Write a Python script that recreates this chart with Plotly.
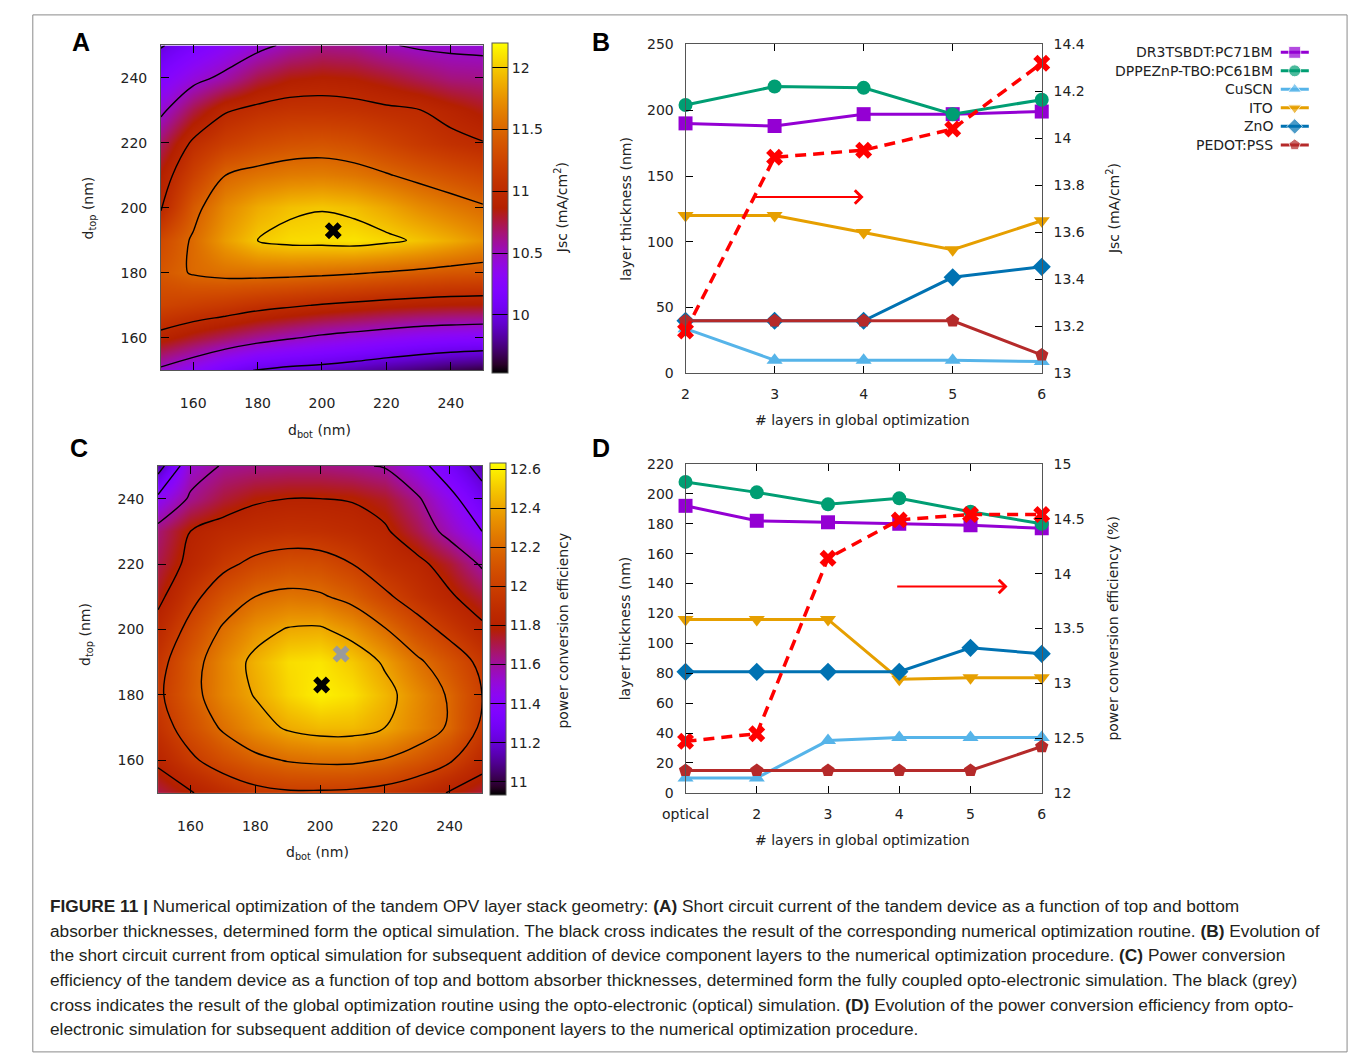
import math
import plotly.graph_objects as go

W, H = 1355, 1053
def fx(px): return px / W
def fy(py): return 1 - py / H

# ---------------- data ----------------
dbot = [150, 160, 170, 180, 190, 200, 210, 220, 230, 240, 250]
dtop = [150, 160, 170, 180, 190, 200, 210, 220, 230, 240, 250]

# Jsc (mA/cm2), rows = d_top, cols = d_bot
jsc_grid = [
    [10.45, 10.30, 10.12, 9.98, 9.93, 9.90, 9.85, 9.78, 9.72, 9.66, 9.62],
    [10.92, 10.80, 10.70, 10.60, 10.52, 10.45, 10.40, 10.35, 10.30, 10.27, 10.25],
    [11.25, 11.20, 11.15, 11.08, 11.03, 10.98, 10.94, 10.90, 10.87, 10.85, 10.84],
    [11.40, 11.52, 11.57, 11.58, 11.57, 11.55, 11.52, 11.48, 11.44, 11.40, 11.38],
    [11.30, 11.53, 11.80, 12.00, 12.07, 12.08, 12.10, 12.05, 11.97, 11.87, 11.75],
    [10.97, 11.42, 11.70, 11.87, 11.96, 11.99, 11.95, 11.85, 11.72, 11.62, 11.53],
    [10.88, 11.22, 11.50, 11.58, 11.63, 11.64, 11.60, 11.52, 11.43, 11.35, 11.27],
    [10.70, 11.04, 11.20, 11.30, 11.36, 11.38, 11.34, 11.25, 11.15, 11.07, 11.01],
    [10.45, 10.75, 10.98, 11.06, 11.10, 11.10, 11.08, 11.04, 11.01, 10.92, 10.83],
    [10.22, 10.42, 10.56, 10.75, 10.85, 10.88, 10.86, 10.80, 10.72, 10.65, 10.63],
    [9.98, 10.15, 10.30, 10.43, 10.55, 10.62, 10.60, 10.52, 10.47, 10.45, 10.44],
]

# power conversion efficiency (%), rows = d_top, cols = d_bot
pce_grid = [
    [11.70, 11.79, 11.88, 11.95, 11.98, 11.98, 11.97, 11.94, 11.88, 11.79, 11.72],
    [11.83, 11.97, 12.08, 12.16, 12.21, 12.23, 12.23, 12.19, 12.12, 12.02, 11.86],
    [11.92, 12.08, 12.22, 12.33, 12.42, 12.46, 12.46, 12.40, 12.30, 12.18, 11.97],
    [11.97, 12.14, 12.30, 12.41, 12.53, 12.60, 12.56, 12.45, 12.32, 12.18, 12.00],
    [11.94, 12.13, 12.30, 12.44, 12.55, 12.57, 12.50, 12.38, 12.23, 12.10, 11.96],
    [11.86, 12.05, 12.22, 12.34, 12.41, 12.42, 12.34, 12.21, 12.07, 11.95, 11.83],
    [11.76, 11.95, 12.10, 12.20, 12.24, 12.22, 12.15, 12.03, 11.92, 11.82, 11.72],
    [11.70, 11.84, 11.96, 12.04, 12.08, 12.07, 12.00, 11.90, 11.84, 11.73, 11.58],
    [11.65, 11.80, 11.86, 11.89, 11.91, 11.90, 11.87, 11.82, 11.70, 11.55, 11.40],
    [11.44, 11.62, 11.72, 11.78, 11.80, 11.80, 11.79, 11.74, 11.62, 11.45, 11.27],
    [11.12, 11.53, 11.61, 11.63, 11.64, 11.64, 11.62, 11.59, 11.46, 11.30, 11.14],
]

jsc_opt_bot, jsc_opt_top = [203.5], [193.0]
pce_opt_bot, pce_opt_top = [200.5], [183.0]        # opto-electronic (black)
pce_optical_bot, pce_optical_top = [206.5], [192.5]  # optical (grey)

jsc_levels = (10.0, 12.0, 0.5)
pce_levels = (11.2, 12.6, 0.2)

series_names = ["DR3TSBDT:PC71BM", "DPPEZnP-TBO:PC61BM", "CuSCN", "ITO", "ZnO", "PEDOT:PSS"]
series_colors = ["#9400D3", "#009E73", "#56B4E9", "#E69F00", "#0072B2", "#B52A2A"]
series_symbols = ["square", "circle", "triangle-up", "triangle-down", "diamond", "pentagon"]

layers_B = [2, 3, 4, 5, 6]
thick_B = [
    [190, 188, 197, 197, 199],   # DR3TSBDT:PC71BM
    [204, 218, 217, 197, 208],   # DPPEZnP-TBO:PC61BM
    [34, 10, 10, 10, 9],         # CuSCN
    [120, 120, 107, 94, 116],    # ITO
    [40, 40, 40, 73, 81],        # ZnO
    [40, 40, 40, 40, 14],        # PEDOT:PSS
]
jsc_B = [13.18, 13.92, 13.95, 14.04, 14.32]

layers_D = ["optical", "2", "3", "4", "5", "6"]
thick_D = [
    [192, 182, 181, 180, 179, 177],
    [208, 201, 193, 197, 188, 180],
    [10, 10, 35, 37, 37, 37],
    [116, 116, 116, 76, 77, 77],
    [81, 81, 81, 81, 97, 93],
    [15, 15, 15, 15, 15, 31],
]
pce_D = [12.47, 12.54, 14.14, 14.49, 14.54, 14.54]

arrow_B = dict(x0=2.77, x1=4.0, y=134)
arrow_D = dict(x0=2.95, x1=4.52, y=138)

caption_lines = [
    "<b>FIGURE 11 |</b> Numerical optimization of the tandem OPV layer stack geometry: <b>(A)</b> Short circuit current of the tandem device as a function of top and bottom",
    "absorber thicknesses, determined form the optical simulation. The black cross indicates the result of the corresponding numerical optimization routine. <b>(B)</b> Evolution of",
    "the short circuit current from optical simulation for subsequent addition of device component layers to the numerical optimization procedure. <b>(C)</b> Power conversion",
    "efficiency of the tandem device as a function of top and bottom absorber thicknesses, determined form the fully coupled opto-electronic simulation. The black (grey)",
    "cross indicates the result of the global optimization routine using the opto-electronic (optical) simulation. <b>(D)</b> Evolution of the power conversion efficiency from opto-",
    "electronic simulation for subsequent addition of device component layers to the numerical optimization procedure.",
]

# ---------------- style ----------------
FONT = "DejaVu Sans"
TXT = "#222222"
BOX = "#555555"

def gp_color(t):
    r = math.sqrt(t)
    g = t ** 3
    b = max(0.0, math.sin(2 * math.pi * t))
    return "rgb(%d,%d,%d)" % (round(255 * r), round(255 * g), round(255 * b))

gp_scale = [[i / 40, gp_color(i / 40)] for i in range(41)]

fig = go.Figure()

NB = "\u00a0"

def colorbar(xpx, ytop, ybot, tickvals):
    return dict(
        x=fx(xpx), xanchor="left", y=fy((ytop + ybot) / 2), yanchor="middle",
        len=ybot - ytop, lenmode="pixels", thickness=16, thicknessmode="pixels",
        outlinewidth=1, outlinecolor=BOX, ticks="inside", ticklen=16, tickcolor="black",
        tickwidth=1, tickvals=tickvals, tickprefix=NB * 3,
        tickfont=dict(family=FONT, size=14, color=TXT), xpad=0, ypad=0,
    )

# ---- Panel A ----
fig.add_trace(go.Heatmap(
    x=dbot, y=dtop, z=jsc_grid, zsmooth="best", colorscale=gp_scale, zmin=9.53, zmax=12.2,
    colorbar=colorbar(478, 38, 368, [10, 10.5, 11, 11.5, 12]), xaxis="x", yaxis="y",
    hoverinfo="skip"))
fig.add_trace(go.Contour(
    x=dbot, y=dtop, z=jsc_grid, showscale=False, hoverinfo="skip",
    contours=dict(start=jsc_levels[0], end=jsc_levels[1], size=jsc_levels[2], coloring="none"),
    line=dict(color="black", width=1.4, smoothing=1.0), xaxis="x", yaxis="y"))
fig.add_trace(go.Scatter(
    x=jsc_opt_bot, y=jsc_opt_top, mode="markers",
    marker=dict(symbol="x", size=15, color="black", line=dict(width=0)),
    xaxis="x", yaxis="y", showlegend=False))

# ---- Panel C ----
fig.add_trace(go.Heatmap(
    x=dbot, y=dtop, z=pce_grid, zsmooth="best", colorscale=gp_scale, zmin=10.93, zmax=12.63,
    colorbar=colorbar(476, 465, 797, [11, 11.2, 11.4, 11.6, 11.8, 12, 12.2, 12.4, 12.6]),
    xaxis="x3", yaxis="y4", hoverinfo="skip"))
fig.add_trace(go.Contour(
    x=dbot, y=dtop, z=pce_grid, showscale=False, hoverinfo="skip",
    contours=dict(start=pce_levels[0], end=pce_levels[1], size=pce_levels[2], coloring="none"),
    line=dict(color="black", width=1.4, smoothing=1.0), xaxis="x3", yaxis="y4"))
fig.add_trace(go.Scatter(
    x=pce_optical_bot, y=pce_optical_top, mode="markers",
    marker=dict(symbol="x", size=15, color="#9a9a9a", line=dict(width=0)),
    xaxis="x3", yaxis="y4", showlegend=False))
fig.add_trace(go.Scatter(
    x=pce_opt_bot, y=pce_opt_top, mode="markers",
    marker=dict(symbol="x", size=15, color="black", line=dict(width=0)),
    xaxis="x3", yaxis="y4", showlegend=False))

# ---- Panels B and D lines ----
for vals, name, col, sym in zip(thick_B, series_names, series_colors, series_symbols):
    fig.add_trace(go.Scatter(
        x=layers_B, y=vals, mode="lines+markers", name=name, cliponaxis=False,
        line=dict(color=col, width=3), marker=dict(symbol=sym, size=14, color=col),
        xaxis="x2", yaxis="y2", showlegend=False))
fig.add_trace(go.Scatter(
    x=layers_B, y=jsc_B, mode="lines+markers", cliponaxis=False,
    line=dict(color="#FF0000", width=3.5, dash="11px,7px"),
    marker=dict(symbol="x", size=15, color="#FF0000", line=dict(width=0)),
    xaxis="x2", yaxis="y3", showlegend=False))

for vals, name, col, sym in zip(thick_D, series_names, series_colors, series_symbols):
    fig.add_trace(go.Scatter(
        x=layers_D, y=vals, mode="lines+markers", name=name, cliponaxis=False,
        line=dict(color=col, width=3), marker=dict(symbol=sym, size=14, color=col),
        xaxis="x4", yaxis="y5", showlegend=False))
fig.add_trace(go.Scatter(
    x=layers_D, y=pce_D, mode="lines+markers", cliponaxis=False,
    line=dict(color="#FF0000", width=3.5, dash="11px,7px"),
    marker=dict(symbol="x", size=15, color="#FF0000", line=dict(width=0)),
    xaxis="x4", yaxis="y6", showlegend=False))

# ---- legend samples (gnuplot style: sample to the right of the text) ----
for i, (name, col, sym) in enumerate(zip(series_names, series_colors, series_symbols)):
    fig.add_trace(go.Scatter(
        x=[0, 0.5, 1], y=[i, i, i], mode="lines+markers", cliponaxis=False,
        line=dict(color=col, width=3), marker=dict(symbol=sym, size=[0, 12, 0], color=col),
        xaxis="x5", yaxis="y7", showlegend=False, hoverinfo="skip"))

# ---------------- axes ----------------
def ax(**kw):
    base = dict(showgrid=False, zeroline=False, showline=True, linecolor=BOX, linewidth=1,
                ticks="inside", tickcolor="black", tickwidth=1, ticklen=7,
                tickfont=dict(family=FONT, size=14, color=TXT))
    base.update(kw)
    return base

layout = dict(
    width=W, height=H, margin=dict(l=0, r=0, t=0, b=0),
    paper_bgcolor="white", plot_bgcolor="white", showlegend=False,
    xaxis=ax(domain=[fx(140), fx(469)], range=[150, 250], tickvals=[160, 180, 200, 220, 240],
             anchor="y", mirror="ticks", ticklen=8, ticklabelstandoff=20),
    yaxis=ax(domain=[fy(368), fy(38)], range=[150, 250], tickvals=[160, 180, 200, 220, 240],
             anchor="x", mirror="ticks", ticklen=8, ticklabelstandoff=10),
    xaxis2=ax(domain=[fx(676), fx(1040)], range=[2, 6], tickvals=layers_B,
              anchor="y2", mirror="ticks", ticklabelstandoff=8),
    yaxis2=ax(domain=[fy(371), fy(37)], range=[0, 250], dtick=50, anchor="x2",
              ticklabelstandoff=8),
    yaxis3=ax(overlaying="y2", side="right", range=[13, 14.4], tick0=13, dtick=0.2,
              anchor="x2", ticklabelstandoff=8),
    xaxis3=ax(domain=[fx(137), fx(468)], range=[150, 250], tickvals=[160, 180, 200, 220, 240],
              anchor="y4", mirror="ticks", ticklen=8, ticklabelstandoff=20),
    yaxis4=ax(domain=[fy(797), fy(465)], range=[150, 250], tickvals=[160, 180, 200, 220, 240],
              anchor="x3", mirror="ticks", ticklen=8, ticklabelstandoff=10),
    xaxis4=ax(domain=[fx(676), fx(1040)], type="category", range=[0, 5],
              anchor="y5", mirror="ticks", ticklabelstandoff=8),
    yaxis5=ax(domain=[fy(797), fy(463)], range=[0, 220], dtick=20, anchor="x4",
              ticklabelstandoff=8),
    yaxis6=ax(overlaying="y5", side="right", range=[12, 15], tick0=12, dtick=0.5,
              anchor="x4", ticklabelstandoff=8),
    xaxis5=dict(domain=[fx(1284), fx(1313)], range=[0, 1], visible=False, anchor="y7"),
    yaxis7=dict(domain=[fy(148.4), fy(35.6)], range=[5.5, -0.5], visible=False, anchor="x5"),
)
fig.update_layout(**layout)

# ---------------- annotations ----------------
ann = []
def txt(x, y, s, size=14, angle=0, xanchor="center", family=FONT, color=TXT):
    ann.append(dict(x=fx(x), y=fy(y), xref="paper", yref="paper", text=s, showarrow=False,
                    textangle=angle, xanchor=xanchor, yanchor="middle",
                    font=dict(family=family, size=size, color=color)))

for letter, (x, y) in zip("ABCD", [(58, 35), (590, 35), (56, 447), (590, 447)]):
    txt(x, y, "<b>%s</b>" % letter, size=25, family="Liberation Sans", color="black")

txt(302, 430, "d<sub>bot</sub> (nm)")
txt(66, 203, "d<sub>top</sub> (nm)", angle=-90)
txt(549, 203, "Jsc (mA/cm<sup>2</sup>)", angle=-90)
txt(300, 858, "d<sub>bot</sub> (nm)")
txt(64, 636, "d<sub>top</sub> (nm)", angle=-90)
txt(551, 632, "power conversion efficiency", angle=-90)

txt(615, 204, "layer thickness (nm)", size=14, angle=-90)
txt(1113, 204, "Jsc (mA/cm<sup>2</sup>)", size=14, angle=-90)
txt(857, 418, "# layers in global optimization", size=14)
txt(615, 630, "layer thickness (nm)", size=14, angle=-90)
txt(1113, 630, "power conversion efficiency (%)", size=14, angle=-90)
txt(857, 845, "# layers in global optimization", size=14)

leg_y = [45, 63.8, 82.6, 101.4, 120.2, 139]
for name, y in zip(series_names, leg_y):
    txt(1278, y, name, size=14, xanchor="right")

for i, line in enumerate(caption_lines):
    txt(25, 912 + 25 * i, line, size=17.3, xanchor="left", family="Liberation Sans",
        color="#231f20")

for a, xa, ya in [(arrow_B, "x2", "y2"), (arrow_D, "x4", "y5")]:
    ann.append(dict(x=a["x1"], y=a["y"], ax=a["x0"], ay=a["y"], xref=xa, yref=ya,
                    axref=xa, ayref=ya, showarrow=True, arrowhead=4, arrowsize=1.3,
                    arrowwidth=2, arrowcolor="#FF0000", text=""))

fig.update_layout(annotations=ann)

fig.add_shape(type="rect", xref="paper", yref="paper", x0=fx(9), x1=fx(1352),
              y0=fy(1060), y1=fy(7), line=dict(color="#8a8a8a", width=1))

fig.write_html(
    "out.html",
    post_script="document.body.style.margin='0';document.body.style.padding='0';"
                "document.body.style.overflow='hidden';",
)
